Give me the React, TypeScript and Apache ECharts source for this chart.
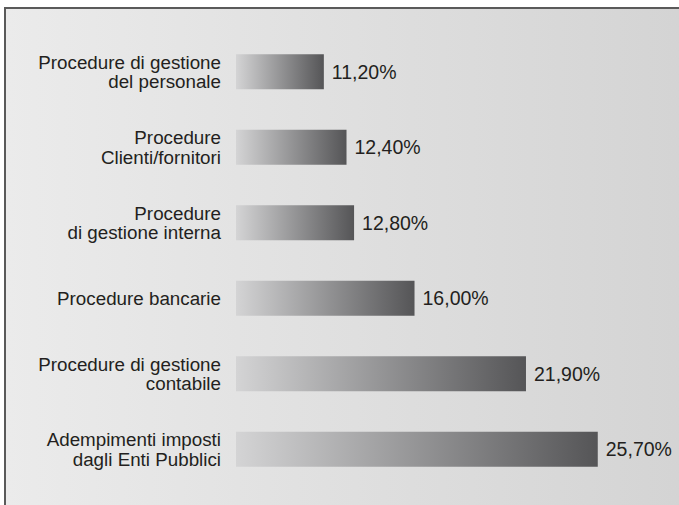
import React, { useEffect, useRef } from "react";
import * as echarts from "echarts";

const categories = [
  "Procedure di gestione\ndel personale",
  "Procedure\nClienti/fornitori",
  "Procedure\ndi gestione interna",
  "Procedure bancarie",
  "Procedure di gestione\ncontabile",
  "Adempimenti imposti\ndagli Enti Pubblici",
];
const values = [11.2, 12.4, 12.8, 16.0, 21.9, 25.7];

export default function App() {
  const ref = useRef<HTMLDivElement>(null);
  useEffect(() => {
    const chart = echarts.init(ref.current!, null, { renderer: "svg" });
    const font = "'Liberation Sans', Arial, sans-serif";
    chart.setOption({
      animation: false,
      backgroundColor: "#ffffff",
      graphic: [
        {
          type: "rect",
          z: -10,
          silent: true,
          shape: { x: 5, y: 8, width: 700, height: 520 },
          style: {
            fill: new echarts.graphic.LinearGradient(0, 0, 1, 0, [
              { offset: 0, color: "#ebebeb" },
              { offset: 1, color: "#d3d3d3" },
            ]),
            stroke: "#5a5a5a",
            lineWidth: 2,
          },
        },
      ],
      grid: { left: 236, right: 0, top: 34, bottom: 18, containLabel: false },
      xAxis: {
        type: "value",
        min: 6.55,
        max: 30,
        show: false,
        splitLine: { show: false },
      },
      yAxis: {
        type: "category",
        data: categories,
        inverse: true,
        axisLine: { show: false },
        axisTick: { show: false },
        axisLabel: {
          margin: 15,
          fontSize: 18.8,
          lineHeight: 19.5,
          color: "#231f20",
          fontFamily: font,
          align: "right",
        },
      },
      series: [
        {
          type: "bar",
          data: values,
          barWidth: 35,
          itemStyle: {
            color: new echarts.graphic.LinearGradient(0, 0, 1, 0, [
              { offset: 0, color: "#d4d4d5" },
              { offset: 1, color: "#555557" },
            ]),
          },
          label: {
            show: true,
            position: "right",
            distance: 8,
            fontSize: 19.5,
            color: "#231f20",
            fontFamily: font,
            formatter: (p: any) => p.value.toFixed(2).replace(".", ",") + "%",
          },
        },
      ],
    });
    return () => chart.dispose();
  }, []);
  return (
    <div
      ref={ref}
      style={{ position: "fixed", left: 0, top: 0, width: 679, height: 505 }}
    />
  );
}
